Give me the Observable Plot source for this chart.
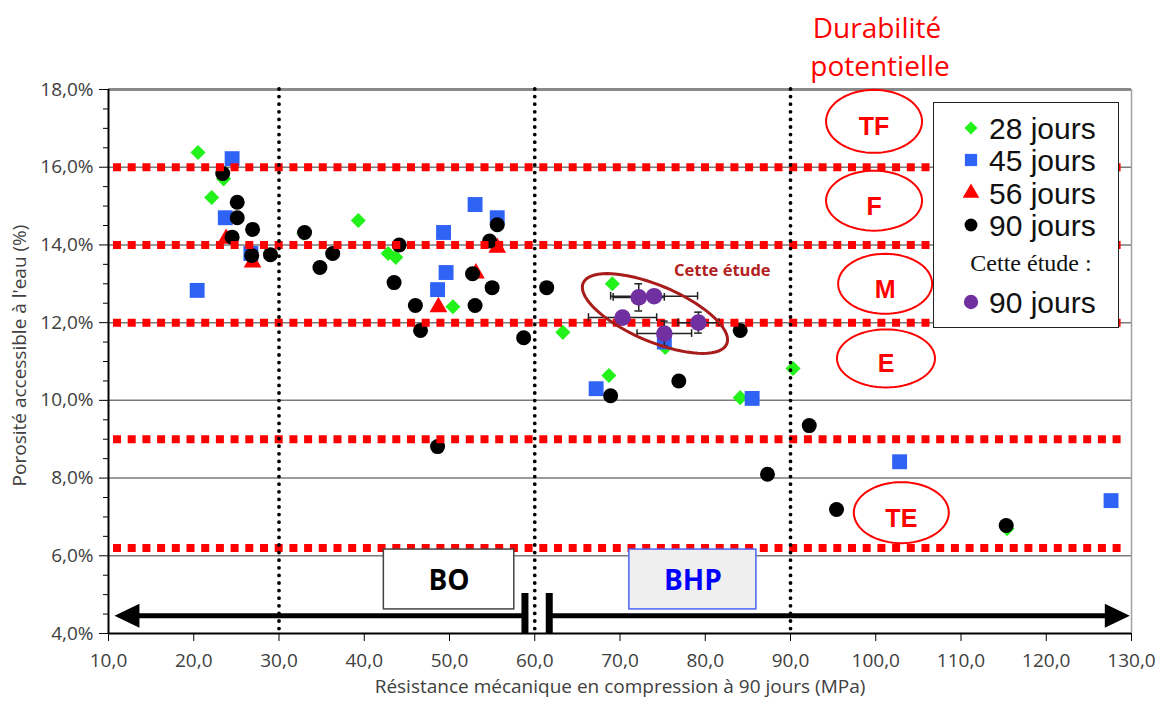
<!DOCTYPE html>
<html><head><meta charset="utf-8">
<script src="https://cdn.jsdelivr.net/npm/d3@7"></script>
<script src="https://cdn.jsdelivr.net/npm/@observablehq/plot@0.6"></script>
<style>
body{margin:0;background:#fff;}
#wrap{position:relative;width:1164px;height:704px;overflow:hidden;background:#fff;}
#wrap svg{position:absolute;left:0;top:0;}
.title{position:absolute;color:#ff0000;font-family:"Open Sans",sans-serif;font-size:28px;line-height:1;white-space:nowrap;transform:translateX(-50%);}
#legend{position:absolute;left:933px;top:102px;width:184px;height:224px;border:1.5px solid #222;background:#fff;}
#legend svg{position:absolute;left:0;top:0;}
</style></head><body><div id="wrap"></div>
<script>
// ---- Data ----
const xTicks = [10,20,30,40,50,60,70,80,90,100,110,120,130];
const yTicks = [4,6,8,10,12,14,16,18];
const yMinor = [4.5,5,5.5,6.5,7,7.5,8.5,9,9.5,10.5,11,11.5,12.5,13,13.5,14.5,15,15.5,16.5,17,17.5];

const x28 = [20.5, 22.1, 23.5, 32.9, 39.3, 42.8, 43.7, 50.4, 63.3, 68.7, 69.1, 75.3, 84.1, 90.3, 115.4];
const y28 = [16.38, 15.22, 15.7, 14.3, 14.63, 13.78, 13.68, 12.41, 11.75, 10.64, 13.0, 11.36, 10.07, 10.82, 6.7];

const x45 = [20.4, 23.7, 24.5, 26.7, 48.6, 49.3, 49.6, 53.0, 55.6, 67.2, 75.2, 85.5, 102.8, 127.6];
const y45 = [12.83, 14.7, 16.22, 13.78, 12.85, 14.32, 13.29, 15.04, 14.7, 10.3, 11.5, 10.05, 8.42, 7.42];

const x56 = [23.8, 26.9, 48.7, 53.1, 55.6];
const y56 = [14.16, 13.55, 12.4, 13.27, 13.93];

const x90 = [23.4, 24.5, 25.1, 25.1, 26.8, 26.9, 29.0, 33.0, 34.8, 36.3, 43.5, 44.1, 46.0, 46.6, 48.6, 52.7, 53.0, 54.7, 55.0, 55.6, 58.7, 61.4, 68.9, 76.9, 84.1, 87.3, 92.2, 95.4, 115.3];
const y90 = [15.84, 14.2, 15.1, 14.7, 13.73, 14.4, 13.75, 14.32, 13.42, 13.78, 13.03, 14.0, 12.44, 11.8, 8.81, 13.26, 12.44, 14.1, 12.9, 14.52, 11.61, 12.9, 10.12, 10.5, 11.8, 8.1, 9.35, 7.19, 6.78];

// Cette étude (90 jours) with error bars
const xStudy = [72.2, 74.0, 70.3, 75.2, 79.2];
const yStudy = [12.65, 12.68, 12.13, 11.72, 12.0];
const xErrStudy = [3.0, 5.1, 4.0, 3.2, 2.4];
const yErrStudy = [0.35, 0.1, 0.1, 0.32, 0.27];

// Durability class limits and labels
const redLevels = [16, 14, 12, 9, 6.2];
const gridLevels = [6, 8, 10, 12, 14, 16];
const classLabels = ["TF", "F", "M", "E", "TE"];
const classX = [99.8, 99.8, 101.1, 101.2, 103.0];
const classY = [17.18, 15.14, 13.0, 11.08, 7.11];
const classRx = [48, 48, 47, 49, 47.5];
const classRy = [31.5, 30, 30, 29, 30.5];

// Study ellipse
const studyEll = {x: 74.1, y: 12.235, rx: 78, ry: 28, angle: 23};

// Concrete classes
const classBoxes = [
  {label: "BO", x1: 42.3, x2: 57.6, y1: 4.62, y2: 6.16, fill: "#ffffff", stroke: "#444444", color: "#000000"},
  {label: "BHP", x1: 71.1, x2: 86.0, y1: 4.62, y2: 6.16, fill: "#efefef", stroke: "#4a63f5", color: "#0000ff"}
];
const arrowY = 4.46;
const breakX = [58.85, 61.7];

// ---- Layout ----
const W = 1164, H = 704, ML = 108, MR = 33, MT = 89, MB = 71;
const kx = (W - ML - MR) / (130 - 10);
const ky = (H - MT - MB) / (18 - 4);

const pts = (xs, ys) => xs.map((x, i) => ({x, y: ys[i]}));
const d28 = pts(x28, y28), d45 = pts(x45, y45), d56 = pts(x56, y56), d90 = pts(x90, y90);
const study = xStudy.map((x, i) => ({x, y: yStudy[i], xe: xErrStudy[i], ye: yErrStudy[i]}));

function ellipse(cx, cy, rx, ry, angDeg, id) {
  const a = angDeg * Math.PI / 180, out = [];
  for (let i = 0; i <= 72; i++) {
    const t = i / 72 * 2 * Math.PI;
    const dx = rx * Math.cos(t) * Math.cos(a) - ry * Math.sin(t) * Math.sin(a);
    const dy = rx * Math.cos(t) * Math.sin(a) + ry * Math.sin(t) * Math.cos(a);
    out.push({x: cx + dx / kx, y: cy - dy / ky, id});
  }
  return out;
}
const classEll = classLabels.flatMap((l, i) => ellipse(classX[i], classY[i], classRx[i], classRy[i], 0, l));
const classTxt = classLabels.map((l, i) => ({l, x: classX[i], y: classY[i]}));
const studyEllPts = ellipse(studyEll.x, studyEll.y, studyEll.rx, studyEll.ry, studyEll.angle, "s");

const headLeft = {draw(ctx) { ctx.moveTo(0, 0); ctx.lineTo(25, -12); ctx.lineTo(25, 12); ctx.closePath(); }};
const headRight = {draw(ctx) { ctx.moveTo(0, 0); ctx.lineTo(-25, -12); ctx.lineTo(-25, 12); ctx.closePath(); }};

const fmtY = d => d.toFixed(1).replace(".", ",") + "%";
const fmtX = d => d.toFixed(1).replace(".", ",");
const axisFont = "'Open Sans', sans-serif";

const plot = Plot.plot({
  width: W, height: H,
  marginLeft: ML, marginRight: MR, marginTop: MT, marginBottom: MB,
  style: {fontFamily: axisFont, fontSize: "19px", color: "#404040", background: "transparent", overflow: "visible"},
  x: {domain: [10, 130]},
  y: {domain: [4, 18]},
  marks: [
    Plot.ruleY(gridLevels, {stroke: "#7a7a7a", strokeWidth: 1.5}),
    Plot.ruleY([18], {stroke: "#8a8a8a", strokeWidth: 3}),
    Plot.ruleX([130], {stroke: "#a0a0a0", strokeWidth: 1.5}),
    Plot.dot(d28, {x: "x", y: "y", symbol: "diamond2", r: 6.8, fill: "#22f21a"}),
    Plot.dot(d45, {x: "x", y: "y", symbol: "square", r: 8.4, fill: "#2f63f5"}),
    Plot.dot(d56, {x: "x", y: "y", symbol: "triangle", r: 6.6, fill: "#ff0000"}),
    Plot.dot(d90, {x: "x", y: "y", symbol: "circle", r: 7.5, fill: "#000000"}),
    Plot.ruleY(redLevels, {stroke: "#ff0000", strokeWidth: 8, strokeDasharray: "8,6.7", insetLeft: 5, insetRight: 4}),
    Plot.ruleX([30, 60, 90], {stroke: "#000", strokeWidth: 3.8, strokeDasharray: "0,7.6", strokeLinecap: "round"}),
    // error bars
    Plot.ruleY(study, {y: "y", x1: d => d.x - d.xe, x2: d => d.x + d.xe, stroke: "#222", strokeWidth: 1.5}),
    Plot.ruleX(study, {x: d => d.x - d.xe, y1: d => d.y - 0.1, y2: d => d.y + 0.1, stroke: "#222", strokeWidth: 1.5}),
    Plot.ruleX(study, {x: d => d.x + d.xe, y1: d => d.y - 0.1, y2: d => d.y + 0.1, stroke: "#222", strokeWidth: 1.5}),
    Plot.ruleX(study, {x: "x", y1: d => d.y - d.ye, y2: d => d.y + d.ye, stroke: "#222", strokeWidth: 1.5}),
    Plot.ruleY(study, {y: d => d.y - d.ye, x1: d => d.x - 0.45, x2: d => d.x + 0.45, stroke: "#222", strokeWidth: 1.5}),
    Plot.ruleY(study, {y: d => d.y + d.ye, x1: d => d.x - 0.45, x2: d => d.x + 0.45, stroke: "#222", strokeWidth: 1.5}),
    Plot.dot(study, {x: "x", y: "y", r: 8.3, fill: "#7030a0"}),
    Plot.line(studyEllPts, {x: "x", y: "y", stroke: "#a81c1c", strokeWidth: 3}),
    Plot.text(["Cette étude"], {x: 82.0, y: 13.34, fill: "#b32020", fontWeight: "bold", fontSize: 16.5, fontFamily: "'Open Sans', sans-serif"}),
    // durability classes
    Plot.line(classEll, {x: "x", y: "y", z: "id", stroke: "#ff0000", strokeWidth: 2}),
    Plot.text(classTxt, {x: "x", y: "y", text: "l", dy: 6, fill: "#ff0000", fontWeight: "bold", fontSize: 25, fontFamily: "'Liberation Sans', sans-serif"}),
    // BO / BHP
    Plot.rect(classBoxes, {x1: "x1", x2: "x2", y1: "y1", y2: "y2", fill: "fill", stroke: "stroke", strokeWidth: 1.5}),
    Plot.text(classBoxes, {x: d => (d.x1 + d.x2) / 2, y: d => (d.y1 + d.y2) / 2, text: "label", fill: "color", fontSize: 28, fontWeight: "bold", fontFamily: "'Open Sans', sans-serif", dy: 2}),
    Plot.ruleY([arrowY], {x1: 12.6, x2: breakX[0], stroke: "#000", strokeWidth: 5}),
    Plot.ruleY([arrowY], {x1: breakX[1], x2: 127.2, stroke: "#000", strokeWidth: 5}),
    Plot.dot([10.7], {x: d => d, y: arrowY, symbol: headLeft, fill: "#000", r: 5}),
    Plot.dot([129.8], {x: d => d, y: arrowY, symbol: headRight, fill: "#000", r: 5}),
    Plot.ruleX(breakX, {y1: 4, y2: 5.03, stroke: "#000", strokeWidth: 7}),
    // axes
    Plot.ruleX([10], {stroke: "#000", strokeWidth: 2}),
    Plot.ruleY([4], {stroke: "#000", strokeWidth: 2}),
    Plot.axisY(yTicks, {tickFormat: fmtY, tickSize: 9, tickPadding: 6, stroke: "#000", fill: "#404040", label: null, fontSize: 19}),
    Plot.axisY(yMinor, {tickFormat: () => "", tickSize: 5, stroke: "#000", label: null}),
    Plot.axisX(xTicks, {tickFormat: fmtX, tickSize: 8, tickPadding: 12, stroke: "#000", fill: "#404040", label: null, fontSize: 19}),
    Plot.text(["Porosité accessible à l'eau (%)"], {frameAnchor: "left", dx: -89, dy: -6, rotate: -90, textAnchor: "middle", fill: "#404040", fontSize: 19}),
    Plot.text(["Résistance mécanique en compression à 90 jours (MPa)"], {frameAnchor: "bottom", dy: 59, textAnchor: "middle", fill: "#404040", fontSize: 19})
  ]
});

const wrap = document.getElementById("wrap");
wrap.appendChild(plot);

// title
const t1 = document.createElement("div"); t1.className = "title"; t1.textContent = "Durabilité";
t1.style.left = "877px"; t1.style.top = "13px"; wrap.appendChild(t1);
const t2 = document.createElement("div"); t2.className = "title"; t2.textContent = "potentielle";
t2.style.left = "880px"; t2.style.top = "51px"; wrap.appendChild(t2);

// legend
const legendItems = [
  {label: "28 jours", color: "#22f21a", sym: d3.symbolDiamond2, size: 110, y: 127},
  {label: "45 jours", color: "#2f63f5", sym: d3.symbolSquare, size: 150, y: 159},
  {label: "56 jours", color: "#ff0000", sym: d3.symbolTriangle, size: 120, y: 192},
  {label: "90 jours", color: "#000000", sym: d3.symbolCircle, size: 130, y: 224}
];
const leg = document.createElement("div"); leg.id = "legend"; wrap.appendChild(leg);
const ls = d3.select(leg).append("svg").attr("width", 186).attr("height", 226);
const ox = 933, oy = 102;
legendItems.forEach(it => {
  ls.append("path").attr("d", d3.symbol(it.sym, it.size)()).attr("transform", `translate(${970 - ox},${it.y - oy})`).attr("fill", it.color);
  ls.append("text").attr("x", 988 - ox).attr("y", it.y - oy + 11).attr("font-family", "'Liberation Sans', Arial, sans-serif").attr("font-size", 30).attr("fill", "#111").text(it.label);
});
ls.append("text").attr("x", 1030 - ox).attr("y", 270 - oy).attr("text-anchor", "middle").attr("font-family", "'Liberation Serif', serif").attr("font-size", 24).attr("fill", "#111").text("Cette étude :");
ls.append("path").attr("d", d3.symbol(d3.symbolCircle, 160)()).attr("transform", `translate(${970 - ox},${301 - oy})`).attr("fill", "#7030a0");
ls.append("text").attr("x", 988 - ox).attr("y", 301 - oy + 11).attr("font-family", "'Liberation Sans', Arial, sans-serif").attr("font-size", 30).attr("fill", "#111").text("90 jours");
</script></body></html>
